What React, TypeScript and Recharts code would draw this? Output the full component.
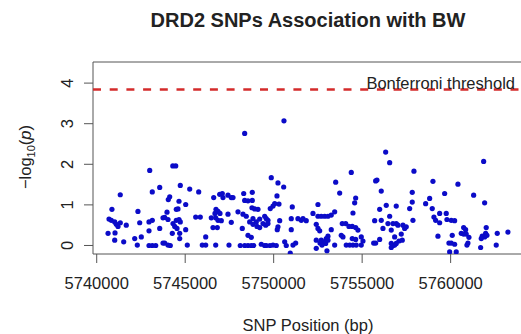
import React from 'react';
import { ScatterChart, Scatter, XAxis, YAxis, ReferenceLine } from 'recharts';

const FONT = '"Liberation Sans", Arial, Helvetica, sans-serif';

const xTicks = [5740000, 5745000, 5750000, 5755000, 5760000];
const yTicks = [0, 1, 2, 3, 4];
const xDomain: [number, number] = [5739790, 5764090];
const yDomain: [number, number] = [-0.21, 4.52];
const bonferroni = 3.845;
const thresholdLabel = 'Bonferroni threshold';
const chartTitle = 'DRD2 SNPs Association with BW';
const xTitle = 'SNP Position (bp)';

// [position (bp), -log10(p)]
const snpsA: [number, number][] = [
  [5742995, 1.85], [5743140, 1.32], [5743560, 1.43], [5741330, 1.25], [5740860, 0.89], [5742330, 0.84],
  [5740695, 0.65], [5740825, 0.62], [5741017, 0.58], [5741107, 0.52], [5741203, 0.47], [5741333, 0.56],
  [5741670, 0.5], [5742430, 0.56], [5742955, 0.58], [5743141, 0.62], [5743746, 0.68],
  [5740640, 0.3], [5741034, 0.31], [5741017, 0.13], [5741525, 0.09], [5742147, 0.17], [5742520, 0.21],
  [5742955, 0.36], [5743560, 0.42], [5742294, 0.01], [5742955, 0.0], [5743141, 0.0], [5743334, 0.0], [5743746, 0.06],
];

const snpsB: [number, number][] = [
  [5744300, 1.96], [5744464, 1.96], [5744723, 1.48], [5745255, 1.39], [5745763, 1.32], [5744125, 1.2], [5744045, 1.13],
  [5744650, 1.09], [5745029, 1.01], [5744593, 0.9], [5744497, 0.89], [5743972, 0.82], [5743842, 0.69], [5744028, 0.64],
  [5744497, 0.62], [5744650, 0.64], [5744723, 0.58], [5744311, 0.54], [5744407, 0.47], [5744537, 0.42], [5745029, 0.39],
  [5744271, 0.3], [5744690, 0.3], [5744690, 0.17], [5745594, 0.7], [5745853, 0.7], [5743842, 0.06], [5744028, 0.01],
  [5744158, 0.0], [5745119, 0.01], [5746159, 0.21], [5745966, 0.01], [5746159, 0.01], [5746724, 0.01], [5747475, 0.01],
  [5746611, 1.18], [5746950, 1.26], [5747096, 1.28], [5747136, 1.18], [5747418, 1.24], [5747605, 1.18],
  [5746740, 0.89], [5746853, 0.84], [5746683, 0.79], [5746966, 0.79], [5746475, 0.68], [5746724, 0.68], [5746853, 0.62],
  [5747040, 0.61], [5746571, 0.44], [5746814, 0.44], [5747418, 0.77], [5747605, 0.57],
];

const snpsC: [number, number][] = [
  [5748362, 2.76], [5750582, 3.07], [5749865, 1.67], [5750243, 1.54], [5750566, 1.44], [5747701, 1.18], [5748306, 1.28],
  [5748791, 1.31], [5748362, 1.11], [5748548, 1.1], [5748791, 1.11], [5750187, 1.22], [5750057, 1.03], [5749961, 0.97],
  [5749808, 0.91], [5750300, 1.02], [5748774, 0.93], [5748927, 0.9], [5749113, 0.89], [5751051, 0.95], [5747983, 0.83],
  [5748266, 0.77], [5748452, 0.72], [5748831, 0.66], [5748645, 0.58], [5749017, 0.58], [5749492, 0.72], [5749582, 0.66],
  [5749678, 0.62], [5749210, 0.65], [5750995, 0.66], [5751373, 0.66], [5751560, 0.62], [5750340, 0.61], [5748831, 0.52],
  [5749057, 0.47], [5749210, 0.44], [5749396, 0.54], [5749549, 0.5], [5749678, 0.54], [5750243, 0.46], [5750204, 0.39],
  [5748226, 0.42], [5750995, 0.39], [5748548, 0.25], [5748735, 0.2],
  [5748113, 0.0], [5748362, 0.0], [5748548, 0.0], [5748735, 0.0], [5748870, 0.0],
  [5749300, 0.03], [5749492, 0.0], [5749582, 0.0], [5749791, 0.0], [5749961, 0.01], [5750147, 0.0],
  [5750622, 0.09], [5750712, 0.0], [5751091, 0.01], [5751244, 0.06], [5750938, -0.19],
];

const snpsD: [number, number][] = [
  [5754385, 1.8], [5753504, 1.56], [5753730, 1.29], [5755764, 1.59], [5754634, 1.17], [5754577, 1.05], [5752503, 1.01],
  [5754481, 0.8], [5751656, 0.66], [5751842, 0.61], [5752221, 0.79], [5752503, 0.72], [5752690, 0.72], [5752882, 0.72],
  [5753068, 0.72], [5753255, 0.75], [5753447, 0.83], [5752407, 0.52], [5752503, 0.42], [5752600, 0.36], [5753255, 0.39],
  [5753068, 0.23], [5752972, 0.17], [5753876, 0.54], [5754069, 0.54], [5754255, 0.47], [5754441, 0.47], [5754634, 0.44],
  [5754763, 0.38], [5753820, 0.25], [5753916, 0.21], [5754441, 0.17], [5754634, 0.15], [5754950, 0.21], [5755046, 0.11],
  [5752407, 0.13], [5752690, 0.13], [5752826, 0.09], [5752939, 0.05], [5753068, 0.13], [5752620, 0.06], [5752733, 0.01],
  [5752407, -0.07], [5753012, -0.13], [5753447, 0.01], [5754102, 0.01], [5754295, 0.01], [5754481, 0.01], [5754667, 0.01],
  [5754950, 0.01], [5755707, 0.61], [5755651, 0.06],
];

const snpsE: [number, number][] = [
  [5756329, 2.3], [5756555, 2.04], [5757927, 1.83], [5755837, 1.61], [5759001, 1.58], [5756080, 1.34], [5757831, 1.31],
  [5758815, 1.16], [5757831, 1.07], [5758589, 1.03], [5756362, 0.99], [5756927, 0.97], [5755990, 0.89], [5757685, 0.91],
  [5758961, 0.91], [5756080, 0.62], [5756555, 0.72], [5756458, 0.54], [5756741, 0.54], [5756927, 0.54], [5757023, 0.5],
  [5757306, 0.5], [5757402, 0.42], [5757492, 0.46], [5757871, 0.62], [5759057, 0.7], [5759154, 0.62], [5759380, 0.79],
  [5759380, 0.56], [5756176, 0.42], [5756645, 0.38], [5757210, 0.28], [5756837, 0.21], [5755990, 0.15], [5755764, 0.06],
  [5757080, 0.11], [5757266, 0.13], [5756645, 0.05], [5756741, 0.0], [5756645, -0.05], [5756837, 0.01], [5756927, 0.05],
  [5759283, 0.23], [5759662, 1.28],
];

const snpsF: [number, number][] = [
  [5761866, 2.07], [5760413, 1.51], [5761301, 1.24], [5761922, 1.05], [5759752, 0.79], [5759792, 0.64], [5760035, 0.62],
  [5760227, 0.61], [5760736, 0.44], [5760849, 0.39], [5760600, 0.3], [5760736, 0.28], [5760882, 0.28], [5761035, 0.2],
  [5760091, 0.25], [5760035, 0.06], [5760227, 0.03], [5759905, 0.06], [5760978, 0.06], [5760922, 0.01], [5762012, 0.44],
  [5761979, 0.3], [5761786, 0.23], [5761922, 0.21], [5762052, 0.25], [5761730, 0.17], [5761696, -0.05], [5762634, 0.3],
  [5763238, 0.33], [5762577, 0.01], [5759945, -0.16], [5760317, -0.16],
];

const data = [...snpsA, ...snpsB, ...snpsC, ...snpsD, ...snpsE, ...snpsF].map(([pos, logp]) => ({ pos, logp }));

const TEXT = '#222';
const AXIS = '#555';

const XTick = (props: any) => {
  const { x, y, payload } = props;
  return (
    <text x={x} y={y} textAnchor="middle" dominantBaseline="central" fontSize={16.5} fill={TEXT} fontFamily={FONT}>
      {payload.value}
    </text>
  );
};

const YTick = (props: any) => {
  const { x, y, payload } = props;
  return (
    <text
      x={x}
      y={y}
      transform={`rotate(-90 ${x} ${y})`}
      textAnchor="middle"
      dominantBaseline="central"
      fontSize={16.5}
      fill={TEXT}
      fontFamily={FONT}
    >
      {payload.value}
    </text>
  );
};

const Dot = (props: any) => <circle cx={props.cx} cy={props.cy} r={2.6} fill="#0b0bc8" />;

const ThresholdLabel = (props: any) => {
  const vb = props.viewBox || {};
  const x = (vb.x ?? 93) + (vb.width ?? 430) - 8;
  const y = vb.y ?? 89;
  return (
    <text x={x} y={y} textAnchor="end" fontSize={16.5} fill={TEXT} fontFamily={FONT}>
      {thresholdLabel}
    </text>
  );
};

export default function App() {
  return (
    <div style={{ position: 'fixed', left: 0, top: 0, width: 521, height: 334, overflow: 'hidden', background: '#fff' }}>
      <div
        style={{
          position: 'absolute', left: 108, top: 8, width: 400, height: 24, lineHeight: '24px', textAlign: 'center',
          fontFamily: FONT, fontWeight: 'bold', fontSize: 20, color: TEXT, whiteSpace: 'nowrap',
        }}
      >
        {chartTitle}
      </div>
      <div
        style={{
          position: 'absolute', left: 158, top: 314, width: 300, height: 22, lineHeight: '22px', textAlign: 'center',
          fontFamily: FONT, fontSize: 16.5, color: TEXT, whiteSpace: 'nowrap',
        }}
      >
        {xTitle}
      </div>
      <div
        style={{
          position: 'absolute', left: -35, top: 146, width: 120, height: 22, lineHeight: '22px', textAlign: 'center',
          fontFamily: FONT, fontSize: 16.5, color: TEXT, whiteSpace: 'nowrap', transform: 'rotate(-90deg)',
        }}
      >
        −log<span style={{ fontSize: 11, position: 'relative', top: 4 }}>10</span>(<i>p</i>)
      </div>
      <div style={{ position: 'absolute', left: 0, top: 0 }}>
        <ScatterChart width={530} height={334} margin={{ top: 62, right: 7, bottom: 0, left: 0 }}>
          <XAxis
            type="number"
            dataKey="pos"
            domain={xDomain}
            ticks={xTicks}
            interval={0}
            allowDataOverflow
            height={80}
            axisLine={false}
            tickLine={{ stroke: AXIS }}
            tickSize={9}
            tickMargin={20}
            tick={XTick}
          />
          <YAxis
            type="number"
            dataKey="logp"
            domain={yDomain}
            ticks={yTicks}
            interval={0}
            allowDataOverflow
            width={93}
            axisLine={false}
            tickLine={{ stroke: AXIS }}
            tickSize={9}
            tickMargin={17}
            tick={YTick}
          />
          <ReferenceLine x={xDomain[0]} stroke={AXIS} strokeWidth={1} ifOverflow="visible" />
          <ReferenceLine x={xDomain[1]} stroke={AXIS} strokeWidth={1} ifOverflow="visible" />
          <ReferenceLine y={yDomain[1]} stroke={AXIS} strokeWidth={1} ifOverflow="visible" />
          <ReferenceLine y={yDomain[0]} stroke={AXIS} strokeWidth={1} ifOverflow="visible" />
          <ReferenceLine
            y={bonferroni}
            stroke="#d42b2b"
            strokeWidth={2.5}
            strokeDasharray="8 8.7"
            label={ThresholdLabel}
          />
          <Scatter data={data} shape={Dot} isAnimationActive={false} />
        </ScatterChart>
      </div>
    </div>
  );
}
